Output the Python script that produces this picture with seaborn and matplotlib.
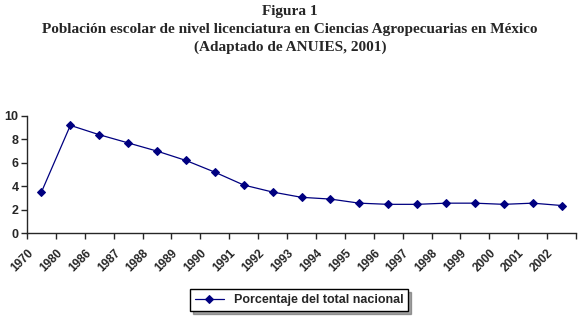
import numpy as np
import pandas as pd
import seaborn as sns
from matplotlib import pyplot as plt

years = ['1970', '1980', '1986', '1987', '1988', '1989', '1990', '1991', '1992', '1993',
         '1994', '1995', '1996', '1997', '1998', '1999', '2000', '2001', '2002']
porcentaje = [3.5, 9.2, 8.4, 7.7, 7.0, 6.2, 5.2, 4.1, 3.5, 3.05,
              2.9, 2.55, 2.45, 2.45, 2.55, 2.55, 2.45, 2.55, 2.35]

df = pd.DataFrame({'pos': np.arange(len(years)), 'year': years, 'val': porcentaje})

sns.set_style('white')
plt.rcParams['font.family'] = ['Liberation Sans', 'DejaVu Sans']

fig = plt.figure(figsize=(5.8, 3.21), dpi=100)
ax = fig.add_axes([27/580, 88/321, 549/580, 117/321])

sns.lineplot(data=df, x='pos', y='val', ax=ax, color='#000080', lw=0.9,
             marker='D', markersize=4.5, markeredgecolor='#000080',
             label='Porcentaje del total nacional', legend=False)

ax.set_xlim(-0.5, len(years) - 0.5)
ax.set_ylim(0, 10)
ax.set_yticks([0, 2, 4, 6, 8, 10])
ax.set_yticklabels(['0', '2', '4', '6', '8', '10'], fontsize=9, fontweight='bold')
# labels sit a little left of each category centre, as in the original
ax.set_xticks(df['pos'] - 0.2)
ax.set_xticklabels(years, rotation=45, ha='right', fontsize=8.5, fontweight='bold')
ax.set_xticks(np.arange(len(years) + 1) - 0.5, minor=True)
ax.tick_params(axis='x', which='major', length=0, pad=10)
ax.tick_params(axis='x', which='minor', length=4, width=1, direction='out', bottom=True)
ax.tick_params(axis='y', length=4, width=1, direction='out', left=True, pad=2)
ax.set_xlabel('')
ax.set_ylabel('')
ax.spines['top'].set_visible(False)
ax.spines['right'].set_visible(False)
ax.spines['left'].set_linewidth(1)
ax.spines['bottom'].set_linewidth(1)

title_font = dict(family=['Liberation Serif', 'DejaVu Serif'], fontweight='bold', fontsize=11, ha='center')
fig.text(0.5, 1 - 11/321, 'Figura 1', va='center', **title_font)
fig.text(0.5, 1 - 29/321, 'Población escolar de nivel licenciatura en Ciencias Agropecuarias en México', va='center', **title_font)
fig.text(0.5, 1 - 47/321, '(Adaptado de ANUIES, 2001)', va='center', **title_font)

leg = fig.legend(handles=ax.get_lines(), labels=['Porcentaje del total nacional'],
                 loc='center', bbox_to_anchor=(299/580, 1 - 300/321),
                 frameon=True, fancybox=False, shadow=True, handlelength=2.3,
                 prop=dict(weight='bold', size=9), borderpad=0.4)
leg.get_frame().set_edgecolor('black')
leg.get_frame().set_linewidth(1)

fig.savefig('out.png', dpi=100)
